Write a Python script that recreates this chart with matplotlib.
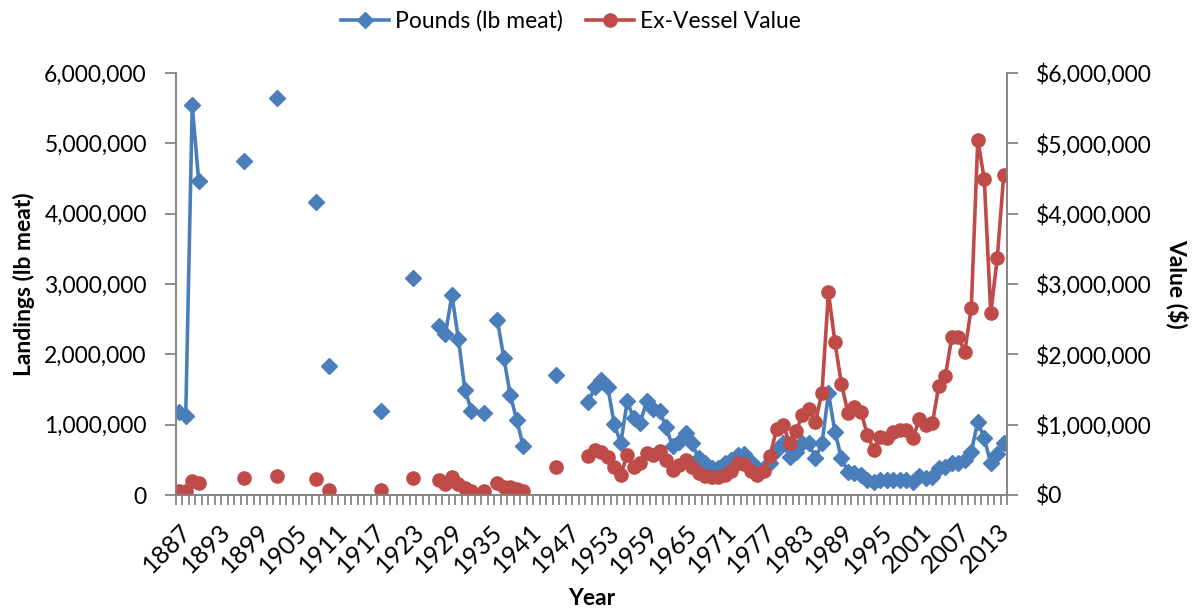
import numpy as np
import pandas as pd
import matplotlib
matplotlib.use('Agg')
import matplotlib.pyplot as plt
from matplotlib.ticker import FuncFormatter

# Years with a record; every other year between 1887 and 2014 is blank (gap in the line)
years = [1887, 1888, 1889, 1890, 1897, 1902, 1908, 1910, 1918, 1923,
         1927, 1928, 1929, 1930, 1931, 1932, 1934,
         1936, 1937, 1938, 1939, 1940, 1945] + list(range(1950, 2015))

# Landings, lb meat
pounds = [1180000, 1125000, 5540000, 4460000, 4745000, 5650000, 4160000, 1835000, 1200000, 3090000,
          2400000, 2290000, 2840000, 2215000, 1500000, 1200000, 1170000,
          2490000, 1945000, 1420000, 1060000, 690000, 1710000,
          # 1950 - 1959
          1320000, 1530000, 1630000, 1540000, 1010000, 735000, 1330000, 1090000, 1030000, 1330000,
          # 1960 - 1969
          1220000, 1200000, 960000, 690000, 750000, 880000, 735000, 520000, 450000, 390000,
          # 1970 - 1979
          390000, 450000, 500000, 570000, 580000, 470000, 390000, 390000, 450000, 640000,
          # 1980 - 1989
          740000, 545000, 616000, 735000, 735000, 520000, 735000, 1445000, 900000, 520000,
          # 1990 - 1999
          330000, 310000, 285000, 220000, 190000, 220000, 220000, 220000, 220000, 220000,
          # 2000 - 2009
          190000, 270000, 237000, 260000, 380000, 400000, 460000, 450000, 500000, 616000,
          # 2010 - 2014
          1043000, 806000, 450000, 590000, 735000]

# Ex-vessel value, $
value = [50000, 50000, 200000, 175000, 245000, 270000, 228000, 70000, 70000, 235000,
         213000, 157000, 250000, 157000, 104000, 62000, 62000,
         175000, 118000, 110000, 85000, 62000, 400000,
         # 1950 - 1959
         560000, 640000, 607000, 545000, 394000, 285000, 570000, 400000, 450000, 600000,
         # 1960 - 1969
         570000, 630000, 500000, 360000, 427000, 500000, 400000, 310000, 265000, 250000,
         # 1970 - 1979
         260000, 285000, 346000, 450000, 440000, 346000, 285000, 346000, 555000, 935000,
         # 1980 - 1989
         1000000, 740000, 910000, 1138000, 1220000, 1040000, 1456000, 2884000, 2170000, 1580000,
         # 1990 - 1999
         1170000, 1256000, 1185000, 854000, 640000, 830000, 806000, 900000, 925000, 920000,
         # 2000 - 2009
         806000, 1077000, 996000, 1020000, 1555000, 1693000, 2244000, 2244000, 2040000, 2665000,
         # 2010 - 2014
         5050000, 4490000, 2585000, 3370000, 4553000]

BLUE = '#4A7EBB'
RED = '#BE4B48'
GREY = '#868686'

plt.rcParams['font.family'] = ['Lato', 'DejaVu Sans']
plt.rcParams['font.size'] = 16.5

all_years = np.arange(1887, 2015)
table = pd.DataFrame({'pounds': pounds, 'value': value}, index=years).reindex(all_years)
x = np.arange(len(all_years))

fig = plt.figure(figsize=(11.95, 6.11), dpi=100)
ax = fig.add_axes([176 / 1195, 116 / 611, 831 / 1195, 422 / 611])
ax2 = ax.twinx()

l1, = ax.plot(x, table['pounds'], color=BLUE, lw=2.6, marker='D', ms=8.3,
              label='Pounds (lb meat)')
l2, = ax2.plot(x, table['value'], color=RED, lw=2.6, marker='o', ms=9.5,
               label='Ex-Vessel Value')

for a in (ax, ax2):
    a.set_xlim(-0.5, len(all_years) - 0.5)
    a.set_ylim(0, 6000000)
    a.set_yticks(np.arange(0, 6000001, 1000000))
    a.spines['top'].set_visible(False)
    for s in ('left', 'right', 'bottom'):
        a.spines[s].set_color(GREY)
        a.spines[s].set_linewidth(1.3)
    a.tick_params(axis='y', length=8, width=1.3, color=GREY, pad=13)

ax.yaxis.set_major_formatter(FuncFormatter(lambda v, p: f'{v:,.0f}'))
ax2.yaxis.set_major_formatter(FuncFormatter(lambda v, p: f'${v:,.0f}'))

# category axis: a tick mark between every year, a label every 6 years
ax.set_xticks(x[::6])
ax.set_xticklabels([str(y) for y in all_years[::6]])
ax.set_xticks(np.arange(-0.5, len(all_years), 1), minor=True)
ax.tick_params(axis='x', which='minor', length=7, width=1.3, color=GREY)
ax.tick_params(axis='x', which='major', length=0, pad=18, labelsize=18)
plt.setp(ax.get_xticklabels(), rotation=45, ha='right', rotation_mode='anchor')

ax.set_ylabel('Landings (lb meat)', fontweight='bold', va='center')
ax.yaxis.set_label_coords(-0.183, 0.5)
ax2.set_ylabel('Value ($)', fontweight='bold', rotation=270, va='center')
ax2.yaxis.set_label_coords(1.205, 0.5)
ax.set_xlabel('Year', fontweight='bold', va='center')
ax.xaxis.set_label_coords(0.5, -0.245)

fig.legend(handles=[l1, l2], loc='center', bbox_to_anchor=(571 / 1195, 1 - 21 / 611), ncol=2,
           frameon=False, handlelength=2.1, handletextpad=0.25, columnspacing=1.0)

fig.savefig('out.png', dpi=100)
